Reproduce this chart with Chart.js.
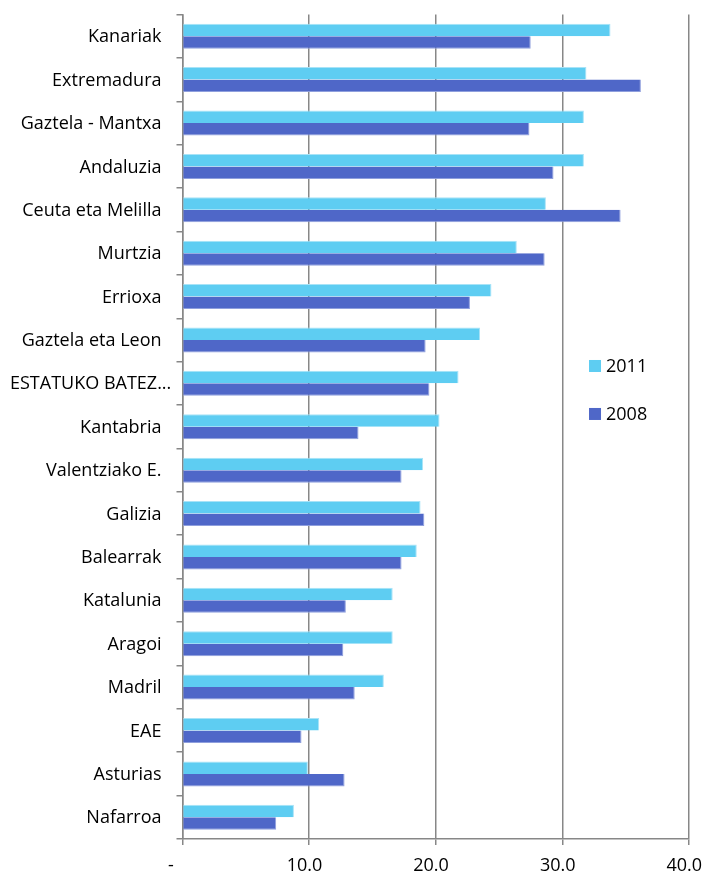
<!DOCTYPE html>
<html>
<head>
<meta charset="utf-8">
<script src="https://cdn.jsdelivr.net/npm/chart.js@4/dist/chart.umd.min.js"></script>
<style>
html,body{margin:0;padding:0;background:#fff;}
#wrap{width:706px;height:874px;position:relative;}
</style>
</head>
<body>
<div id="wrap"><canvas id="c" width="706" height="874"></canvas></div>
<script>
const categories = ["Kanariak","Extremadura","Gaztela - Mantxa","Andaluzia","Ceuta eta Melilla","Murtzia","Errioxa","Gaztela eta Leon","ESTATUKO BATEZ...","Kantabria","Valentziako E.","Galizia","Balearrak","Katalunia","Aragoi","Madril","EAE","Asturias","Nafarroa"];
const values2011 = [33.8,31.9,31.7,31.7,28.7,26.4,24.4,23.5,21.8,20.3,19.0,18.8,18.5,16.6,16.6,15.9,10.8,9.9,8.8];
const values2008 = [27.5,36.2,27.4,29.3,34.6,28.6,22.7,19.2,19.5,13.9,17.3,19.1,17.3,12.9,12.7,13.6,9.4,12.8,7.4];
const xTicks = [0,10,20,30,40];
const seriesNames = ["2011","2008"];
const colors = ["#5ECDF2","#4F67C8"];
const FONT = '"Open Sans", sans-serif';

const legendPlugin = {
  id:'customLegend',
  afterDraw(chart){
    const ctx = chart.ctx, a = chart.chartArea;
    const x = a.left + 0.8026*(a.right-a.left);
    const ys = [a.top + 0.4263*(a.bottom-a.top), a.top + 0.4845*(a.bottom-a.top)];
    ctx.save();
    ctx.font = '18px ' + FONT;
    ctx.textBaseline = 'middle';
    ctx.textAlign = 'left';
    chart.data.datasets.forEach((ds,i)=>{
      ctx.fillStyle = ds.backgroundColor;
      ctx.fillRect(x, ys[i]-6, 12, 12);
      ctx.fillStyle = '#000';
      ctx.fillText(ds.label, x+17, ys[i]+1);
    });
    ctx.restore();
  }
};

// Category labels: right-aligned, but overly long labels start at the left margin (as in the source)
const yLabelPlugin = {
  id:'yLabels',
  afterDraw(chart){
    const ctx = chart.ctx, s = chart.scales.y;
    const rightEdge = s.right - 21, leftMin = 10;
    ctx.save();
    ctx.font = '18px ' + FONT;
    ctx.fillStyle = '#000';
    ctx.textBaseline = 'middle';
    ctx.textAlign = 'left';
    chart.data.labels.forEach((lab,i)=>{
      const y = s.getPixelForTick(i);
      const w = ctx.measureText(lab).width;
      const xl = Math.max(leftMin, rightEdge - w);
      ctx.fillText(lab, xl, y + 1);
    });
    ctx.restore();
  }
};

new Chart(document.getElementById('c'), {
  type:'bar',
  data:{
    labels:categories,
    datasets:[
      {label:seriesNames[0], data:values2011, backgroundColor:colors[0], borderColor:'#A8E3F7', borderWidth:{top:1,right:1,bottom:0,left:0}, borderSkipped:false},
      {label:seriesNames[1], data:values2008, backgroundColor:colors[1], borderColor:'#8F9FDD', borderWidth:{top:0,right:1,bottom:1,left:0}, borderSkipped:false}
    ]
  },
  options:{
    indexAxis:'y',
    responsive:false,
    animation:false,
    devicePixelRatio:1,
    layout:{padding:{top:14.5,right:17,bottom:0,left:0}},
    datasets:{bar:{categoryPercentage:0.576,barPercentage:1.0}},
    plugins:{legend:{display:false},tooltip:{enabled:false}},
    scales:{
      x:{
        min:0,max:40,
        afterBuildTicks(scale){ scale.ticks = xTicks.map(v=>({value:v})); },
        afterFit(scale){ scale.height = 35; scale.paddingLeft = 0; scale.paddingRight = 0; },
        ticks:{
          color:'#000',
          font:{family:FONT, size:18},
          padding:10,
          maxRotation:0,
          callback:(v)=> v===0 ? '-     ' : Number(v).toFixed(1) + '  '
        },
        grid:{color:'#878787',lineWidth:1.5,tickLength:6,drawTicks:true},
        border:{display:true,color:'#878787',width:1.5}
      },
      y:{
        afterFit(scale){ scale.width = 182.5; scale.paddingTop = 0; scale.paddingBottom = 0; },
        ticks:{display:false, autoSkip:false},
        grid:{offset:true,drawOnChartArea:false,color:'#878787',lineWidth:1.5,tickLength:6},
        border:{display:true,color:'#878787',width:1.5}
      }
    }
  },
  plugins:[legendPlugin, yLabelPlugin]
});
</script>
</body>
</html>
